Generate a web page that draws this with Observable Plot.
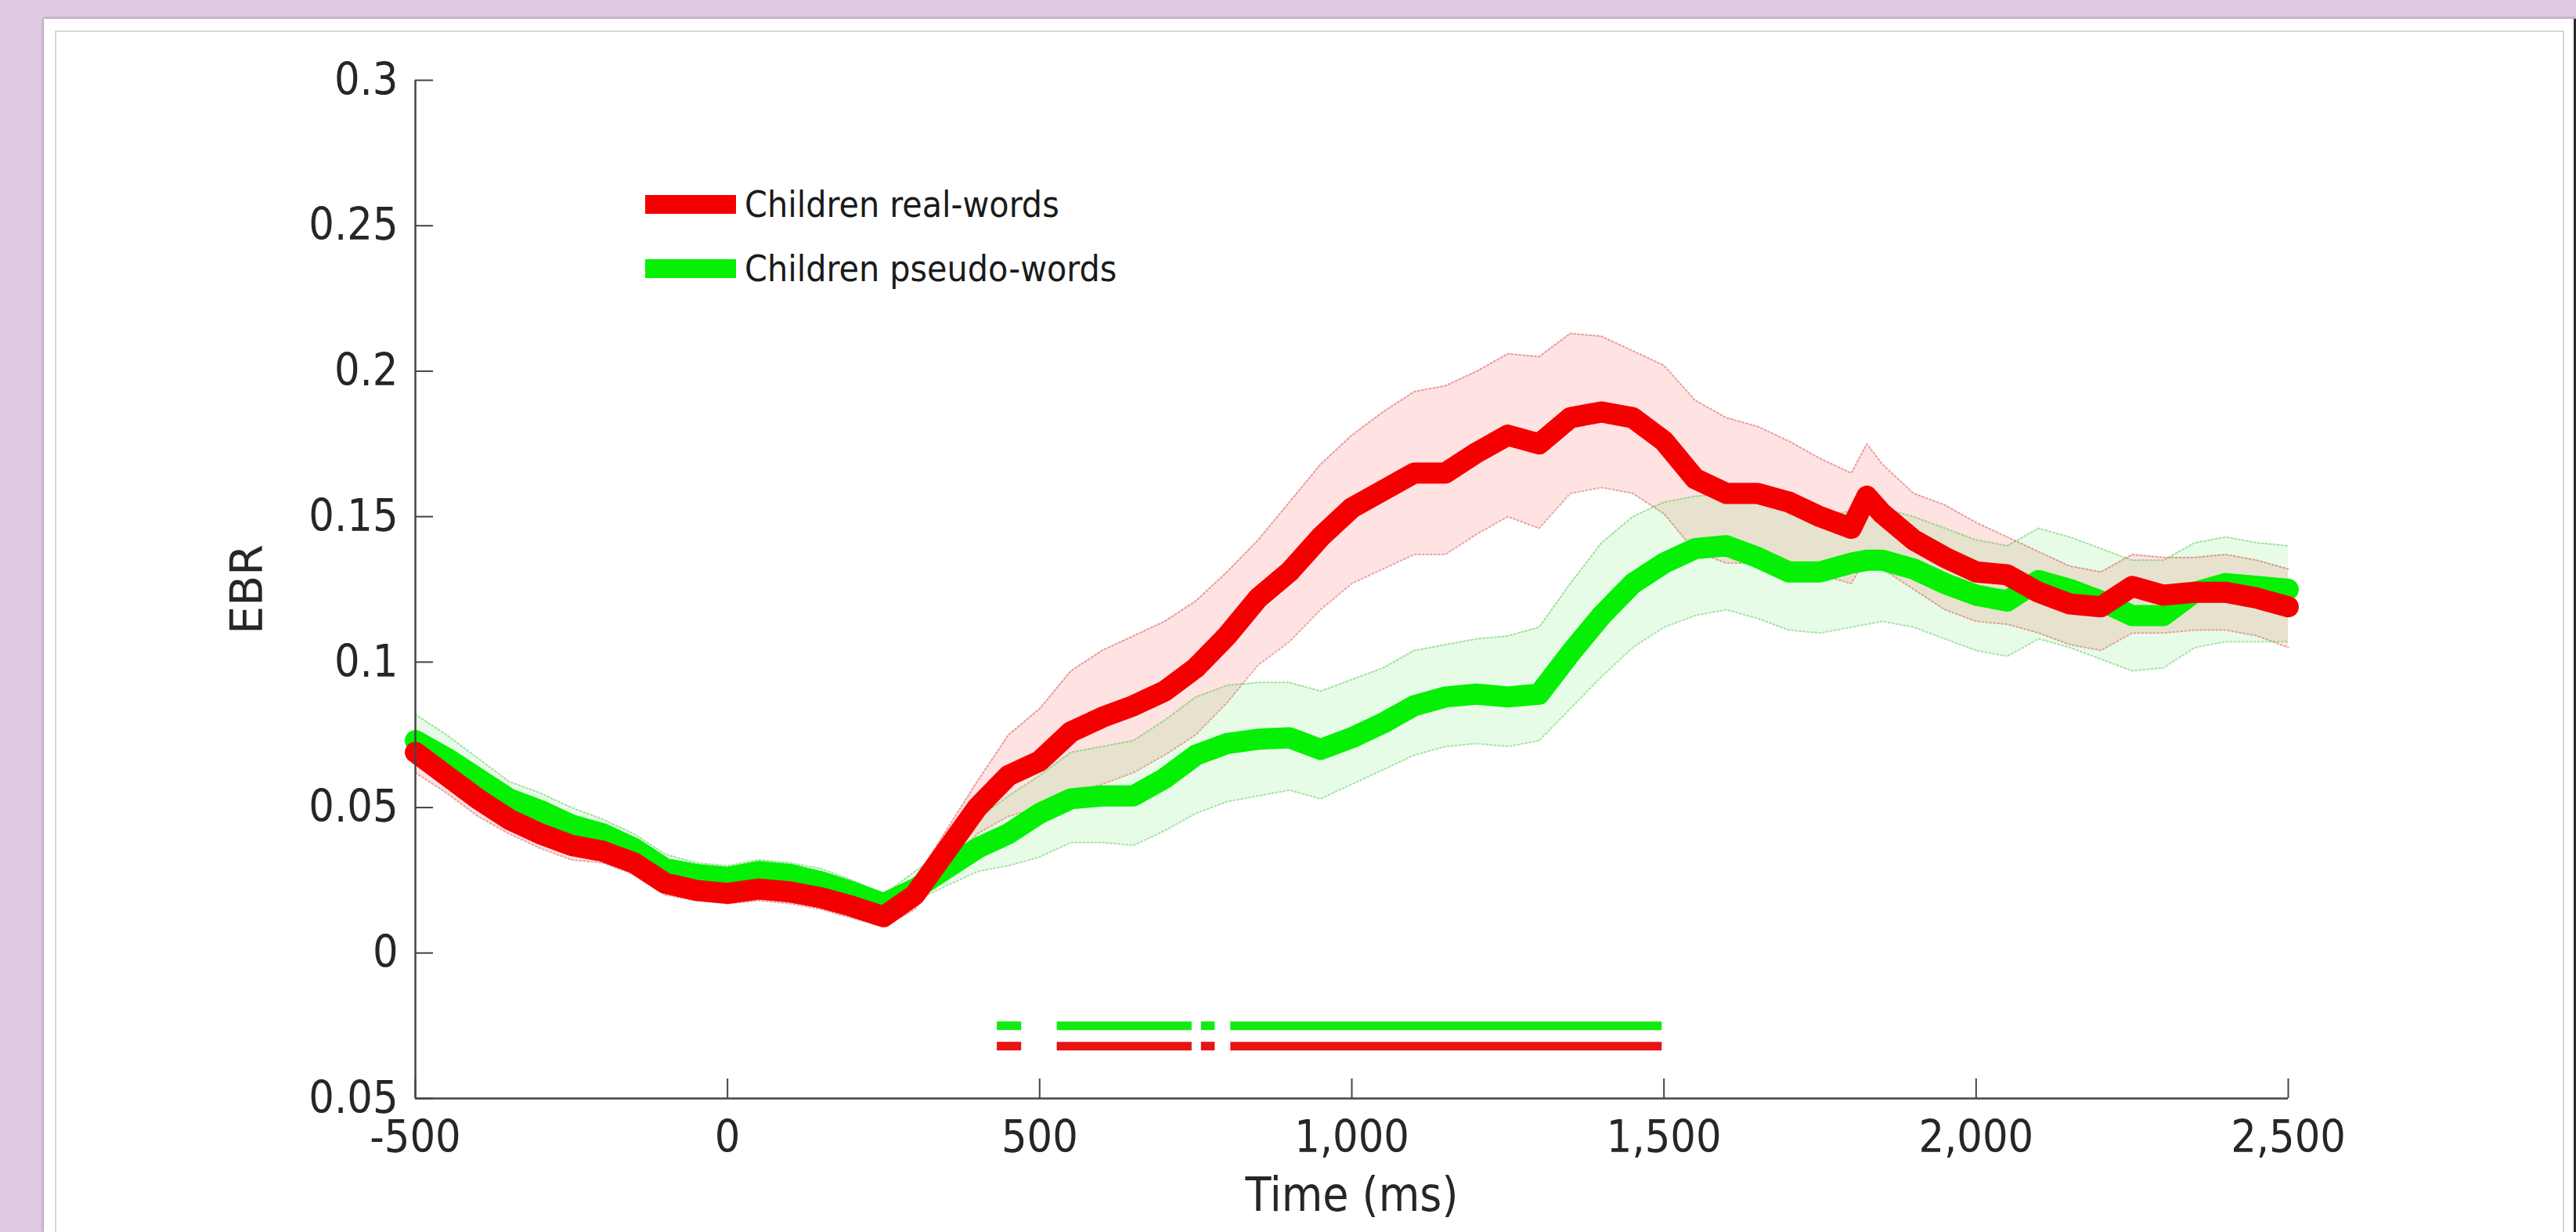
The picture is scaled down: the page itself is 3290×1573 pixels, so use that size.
<!DOCTYPE html>
<html>
<head>
<meta charset="utf-8">
<script src="https://cdn.jsdelivr.net/npm/d3@7"></script>
<script src="https://cdn.jsdelivr.net/npm/@observablehq/plot@0.6"></script>
<style>
  html, body { margin: 0; padding: 0; width: 3290px; height: 1573px; overflow: hidden; background: #decbe3; }
  #panel { position: absolute; left: 56px; top: 24px; width: 3231px; height: 1549px; background: #fff;
           border-right: 3px solid #2a2a2a; box-shadow: 0 -2px 3px rgba(0,0,0,0.15), -2px 0 3px rgba(0,0,0,0.15); }
  #inner { position: absolute; left: 70px; top: 39px; width: 3205px; height: 1600px; border: 2px solid #d6d6d6; box-sizing: border-box; }
  #chart { position: absolute; left: 0; top: 0; }
  #legend { position: absolute; left: 824px; top: 236px; font-family: "DejaVu Sans Condensed", "DejaVu Sans", sans-serif;
            font-size: 46px; color: #1a1a1a; }
  .item { display: flex; align-items: center; height: 50px; margin-bottom: 32px; }
  .sw { width: 116px; height: 24px; margin-right: 11px; }
</style>
</head>
<body>
<div id="panel"></div>
<div id="inner"></div>
<div id="chart"></div>
<div id="legend"></div>
<script>
// ---- data ----
const seriesNames = ["Children real-words", "Children pseudo-words"];
const seriesColors = ["#f50000", "#05f005"];

const time = [-500,-450,-400,-350,-300,-250,-200,-150,-100,-50,0,50,100,150,200,250,300,350,400,450,500,550,600,650,700,750,800,850,900,950,1000,1050,1100,1150,1200,1250,1300,1350,1400,1450,1500,1550,1600,1650,1700,1750,1800,1825,1850,1900,1950,2000,2050,2100,2150,2200,2250,2300,2350,2400,2450,2500];

const realMean = [0.069,0.061,0.053,0.046,0.041,0.037,0.035,0.031,0.024,0.0215,0.0205,0.022,0.021,0.019,0.016,0.0125,0.020,0.035,0.050,0.061,0.066,0.076,0.081,0.085,0.090,0.098,0.109,0.122,0.131,0.143,0.153,0.159,0.165,0.165,0.172,0.178,0.175,0.184,0.186,0.184,0.176,0.163,0.158,0.158,0.155,0.150,0.146,0.157,0.151,0.142,0.136,0.131,0.130,0.124,0.120,0.119,0.126,0.123,0.124,0.124,0.122,0.119];
const realUpper = [0.076,0.067,0.059,0.051,0.046,0.042,0.039,0.035,0.028,0.025,0.024,0.026,0.025,0.023,0.020,0.016,0.025,0.042,0.059,0.075,0.084,0.097,0.104,0.109,0.114,0.121,0.131,0.142,0.155,0.168,0.178,0.186,0.193,0.195,0.200,0.206,0.205,0.213,0.212,0.207,0.202,0.190,0.184,0.181,0.176,0.170,0.165,0.175,0.168,0.158,0.154,0.148,0.143,0.138,0.133,0.131,0.137,0.136,0.136,0.137,0.135,0.132];
const realLower = [0.062,0.055,0.047,0.041,0.036,0.032,0.031,0.027,0.020,0.018,0.017,0.018,0.017,0.015,0.012,0.009,0.015,0.028,0.041,0.047,0.050,0.055,0.058,0.062,0.068,0.075,0.086,0.099,0.107,0.118,0.127,0.132,0.137,0.137,0.144,0.150,0.146,0.158,0.160,0.158,0.151,0.138,0.134,0.134,0.132,0.130,0.127,0.136,0.132,0.125,0.118,0.114,0.113,0.110,0.106,0.104,0.110,0.110,0.111,0.111,0.109,0.105];

const pseudoMean = [0.073,0.067,0.060,0.053,0.049,0.044,0.041,0.036,0.029,0.027,0.026,0.028,0.027,0.0245,0.021,0.017,0.022,0.029,0.036,0.041,0.048,0.053,0.054,0.054,0.060,0.068,0.072,0.0735,0.074,0.070,0.074,0.079,0.085,0.088,0.089,0.088,0.089,0.103,0.116,0.127,0.134,0.139,0.140,0.136,0.131,0.131,0.134,0.135,0.135,0.132,0.127,0.123,0.121,0.128,0.125,0.121,0.116,0.116,0.124,0.127,0.126,0.125];
const pseudoUpper = [0.082,0.075,0.067,0.059,0.055,0.050,0.046,0.041,0.034,0.031,0.030,0.032,0.031,0.029,0.025,0.020,0.028,0.036,0.046,0.054,0.061,0.069,0.071,0.073,0.080,0.088,0.092,0.093,0.093,0.090,0.094,0.098,0.104,0.106,0.108,0.109,0.112,0.127,0.141,0.150,0.155,0.157,0.158,0.155,0.152,0.150,0.152,0.153,0.153,0.150,0.146,0.142,0.140,0.146,0.143,0.139,0.135,0.135,0.141,0.143,0.141,0.140];
const pseudoLower = [0.065,0.060,0.053,0.047,0.043,0.039,0.036,0.031,0.024,0.022,0.022,0.024,0.023,0.020,0.017,0.013,0.018,0.023,0.028,0.030,0.033,0.038,0.038,0.037,0.042,0.048,0.052,0.054,0.056,0.053,0.058,0.063,0.068,0.071,0.072,0.071,0.073,0.084,0.095,0.105,0.112,0.116,0.118,0.115,0.111,0.110,0.112,0.113,0.114,0.112,0.108,0.104,0.102,0.108,0.105,0.101,0.097,0.098,0.105,0.107,0.107,0.107];

// significance segments (ms) and the level at which each row is drawn
const sigStart = [432, 528, 759, 806];
const sigEnd   = [471, 744, 781, 1497];
const sigLevelPseudo = -0.025;
const sigLevelReal = -0.032;

const xTicks = [-500, 0, 500, 1000, 1500, 2000, 2500];
const xTickLabels = ["-500", "0", "500", "1,000", "1,500", "2,000", "2,500"];
const yTicks = [-0.05, 0, 0.05, 0.1, 0.15, 0.2, 0.25, 0.3];
const yTickLabels = ["0.05", "0", "0.05", "0.1", "0.15", "0.2", "0.25", "0.3"];
const xLabel = "Time (ms)";
const yLabel = "EBR";

// ---- tables for Plot ----
const real = time.map((t, i) => ({t, m: realMean[i], lo: realLower[i], hi: realUpper[i]}));
const pseudo = time.map((t, i) => ({t, m: pseudoMean[i], lo: pseudoLower[i], hi: pseudoUpper[i]}));
const sig = sigStart.map((s, i) => ({s, e: sigEnd[i]}));

const tickFont = '"DejaVu Sans Condensed", "DejaVu Sans", sans-serif';

const chart = Plot.plot({
  width: 3290,
  height: 1573,
  marginLeft: 530,
  marginRight: 368,
  marginTop: 102,
  marginBottom: 171,
  x: {domain: [xTicks[0], xTicks[xTicks.length - 1]]},
  y: {domain: [yTicks[0], yTicks[yTicks.length - 1]]},
  style: {background: "transparent", color: "#262626", fontFamily: tickFont},
  marks: [
    // error bands
    Plot.areaY(real, {x: "t", y1: "lo", y2: "hi", fill: "#ff2020", fillOpacity: 0.13}),
    Plot.areaY(pseudo, {x: "t", y1: "lo", y2: "hi", fill: "#20e020", fillOpacity: 0.11}),
    Plot.lineY(real, {x: "t", y: "hi", stroke: "#d04040", strokeOpacity: 0.45, strokeWidth: 2, strokeDasharray: "2,3"}),
    Plot.lineY(real, {x: "t", y: "lo", stroke: "#d04040", strokeOpacity: 0.45, strokeWidth: 2, strokeDasharray: "2,3"}),
    Plot.lineY(pseudo, {x: "t", y: "hi", stroke: "#40c040", strokeOpacity: 0.45, strokeWidth: 2, strokeDasharray: "2,3"}),
    Plot.lineY(pseudo, {x: "t", y: "lo", stroke: "#40c040", strokeOpacity: 0.45, strokeWidth: 2, strokeDasharray: "2,3"}),
    // means
    Plot.lineY(pseudo, {x: "t", y: "m", stroke: seriesColors[1], strokeWidth: 27, strokeLinecap: "round", strokeLinejoin: "round"}),
    Plot.lineY(real, {x: "t", y: "m", stroke: seriesColors[0], strokeWidth: 27, strokeLinecap: "round", strokeLinejoin: "round"}),
    // significance bars
    Plot.ruleY(sig, {x1: "s", x2: "e", y: () => sigLevelPseudo, stroke: "#12ea12", strokeWidth: 11}),
    Plot.ruleY(sig, {x1: "s", x2: "e", y: () => sigLevelReal, stroke: "#e81414", strokeWidth: 11}),
    // axis lines
    Plot.ruleX([xTicks[0]], {stroke: "#444", strokeWidth: 2.5}),
    Plot.ruleY([yTicks[0]], {stroke: "#444", strokeWidth: 2.5}),
    // inward tick marks
    Plot.axisY(yTicks, {tickSize: 23, dx: 23, tickFormat: () => "", label: null, stroke: "#444", strokeWidth: 2}),
    Plot.axisX(xTicks, {tickSize: 25, dy: -25, tickFormat: () => "", label: null, stroke: "#444", strokeWidth: 2}),
    // tick labels
    Plot.axisY(yTicks, {tickSize: 0, tickPadding: 22, tickFormat: d => yTickLabels[yTicks.indexOf(d)], label: null,
                        fontSize: 57, fill: "#262626", fontFamily: tickFont}),
    Plot.axisX(xTicks, {tickSize: 0, tickPadding: 28, tickFormat: d => xTickLabels[xTicks.indexOf(d)], label: null,
                        fontSize: 57, fill: "#262626", fontFamily: tickFont}),
    // axis titles
    Plot.axisY(yTicks, {tickSize: 0, tickFormat: () => "", label: yLabel, labelAnchor: "center", labelArrow: "none",
                        labelOffset: 236, fontSize: 57, fill: "#262626", fontFamily: '"DejaVu Sans", sans-serif'}),
    Plot.axisX(xTicks, {tickSize: 0, tickFormat: () => "", label: xLabel, labelAnchor: "center", labelArrow: "none",
                        labelOffset: 143, fontSize: 60, fill: "#262626", fontFamily: tickFont})
  ]
});
document.getElementById("chart").appendChild(chart);

// legend
const legend = d3.select("#legend");
seriesNames.forEach((name, i) => {
  const item = legend.append("div").attr("class", "item");
  item.append("div").attr("class", "sw").style("background", seriesColors[i]);
  item.append("span").text(name);
});
</script>
</body>
</html>
